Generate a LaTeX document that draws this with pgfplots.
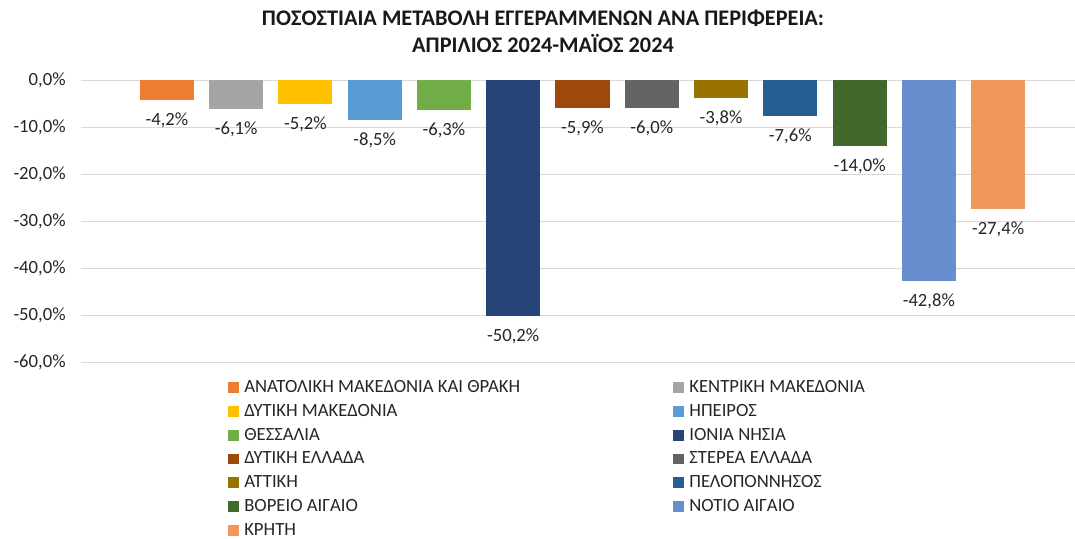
\documentclass[border=0pt]{standalone}
\usepackage{fontspec}
\setmainfont{Carlito}
\usepackage{pgfplots}
\pgfplotsset{compat=1.18}
\usetikzlibrary{calc}
\definecolor{c1}{HTML}{ED7D31}
\definecolor{c2}{HTML}{A5A5A5}
\definecolor{c3}{HTML}{FFC000}
\definecolor{c4}{HTML}{5B9BD5}
\definecolor{c5}{HTML}{70AD47}
\definecolor{c6}{HTML}{264478}
\definecolor{c7}{HTML}{9E480E}
\definecolor{c8}{HTML}{636363}
\definecolor{c9}{HTML}{997300}
\definecolor{c10}{HTML}{255E91}
\definecolor{c11}{HTML}{43682B}
\definecolor{c12}{HTML}{698ED0}
\definecolor{c13}{HTML}{F1975A}
\definecolor{gridc}{HTML}{D9D9D9}

\begin{document}
\begin{tikzpicture}
\begin{axis}[name=ax,
  scale only axis, width=745.5pt, height=211.5pt,
  xmin=-1.24, xmax=13.11, ymin=-60, ymax=0,
  ybar, bar width=0.78, bar shift=0pt,
  axis line style={draw=none}, major tick length=0pt,
  xtick=\empty, ytick={0,-10,...,-60},
  ymajorgrids, grid style={gridc, line width=0.75pt},
  /pgf/number format/assume math mode=true,
  tick label style={font=\fontsize{14}{16}\selectfont, black!85},
  yticklabel={\pgfmathprintnumber[fixed,fixed zerofill,precision=1,use comma]{\tick}\%},
  yticklabel style={xshift=-8pt},
  nodes near coords={\pgfmathprintnumber[fixed,fixed zerofill,precision=1,use comma]{\pgfplotspointmeta}\%},
  every node near coord/.append style={font=\fontsize{14}{16}\selectfont, black!85, yshift=-6pt},
  clip=false,
  legend columns=2,
  legend cell align=left,
  legend image code/.code={\fill[#1] (0pt,-4pt) rectangle (8pt,4pt); \path (0pt,0pt) -- (10pt,0pt);},
  legend style={draw=none, fill=none, inner sep=0pt, at={(0.1479,-0.055)}, anchor=north west,
    font=\fontsize{14}{16}\selectfont, text=black!85, row sep=3.3pt,
    /tikz/every even column/.append style={column sep=113pt}},
]
\addplot[fill=c1, draw=none] coordinates {(0,-4.2)};
\addplot[fill=c2, draw=none] coordinates {(1,-6.1)};
\addplot[fill=c3, draw=none] coordinates {(2,-5.2)};
\addplot[fill=c4, draw=none] coordinates {(3,-8.5)};
\addplot[fill=c5, draw=none] coordinates {(4,-6.3)};
\addplot[fill=c6, draw=none] coordinates {(5,-50.2)};
\addplot[fill=c7, draw=none] coordinates {(6,-5.9)};
\addplot[fill=c8, draw=none] coordinates {(7,-6.0)};
\addplot[fill=c9, draw=none] coordinates {(8,-3.8)};
\addplot[fill=c10, draw=none] coordinates {(9,-7.6)};
\addplot[fill=c11, draw=none] coordinates {(10,-14.0)};
\addplot[fill=c12, draw=none] coordinates {(11,-42.8)};
\addplot[fill=c13, draw=none] coordinates {(12,-27.4)};
\legend{ΑΝΑΤΟΛΙΚΗ ΜΑΚΕΔΟΝΙΑ ΚΑΙ ΘΡΑΚΗ, ΚΕΝΤΡΙΚΗ ΜΑΚΕΔΟΝΙΑ, ΔΥΤΙΚΗ ΜΑΚΕΔΟΝΙΑ, ΗΠΕΙΡΟΣ, ΘΕΣΣΑΛΙΑ, ΙΟΝΙΑ ΝΗΣΙΑ, ΔΥΤΙΚΗ ΕΛΛΑΔΑ, ΣΤΕΡΕΑ ΕΛΛΑΔΑ, ΑΤΤΙΚΗ, ΠΕΛΟΠΟΝΝΗΣΟΣ, ΒΟΡΕΙΟ ΑΙΓΑΙΟ, ΝΟΤΙΟ ΑΙΓΑΙΟ, ΚΡΗΤΗ}
\end{axis}
\node[align=center, font=\fontsize{16.7}{20.5}\bfseries, text=black!90, anchor=center]
  at ($(ax.north west)+(346.5pt,36.5pt)$) {ΠΟΣΟΣΤΙΑΙΑ ΜΕΤΑΒΟΛΗ ΕΓΓΕΡΑΜΜΕΝΩΝ ΑΝΑ ΠΕΡΙΦΕΡΕΙΑ:\\ΑΠΡΙΛΙΟΣ 2024-ΜΑΪΟΣ 2024};
\pgfresetboundingbox
\path ($(ax.south west)+(-60.75pt,-132.75pt)$) rectangle ($(ax.north east)+(0pt,60pt)$);
\end{tikzpicture}
\end{document}
